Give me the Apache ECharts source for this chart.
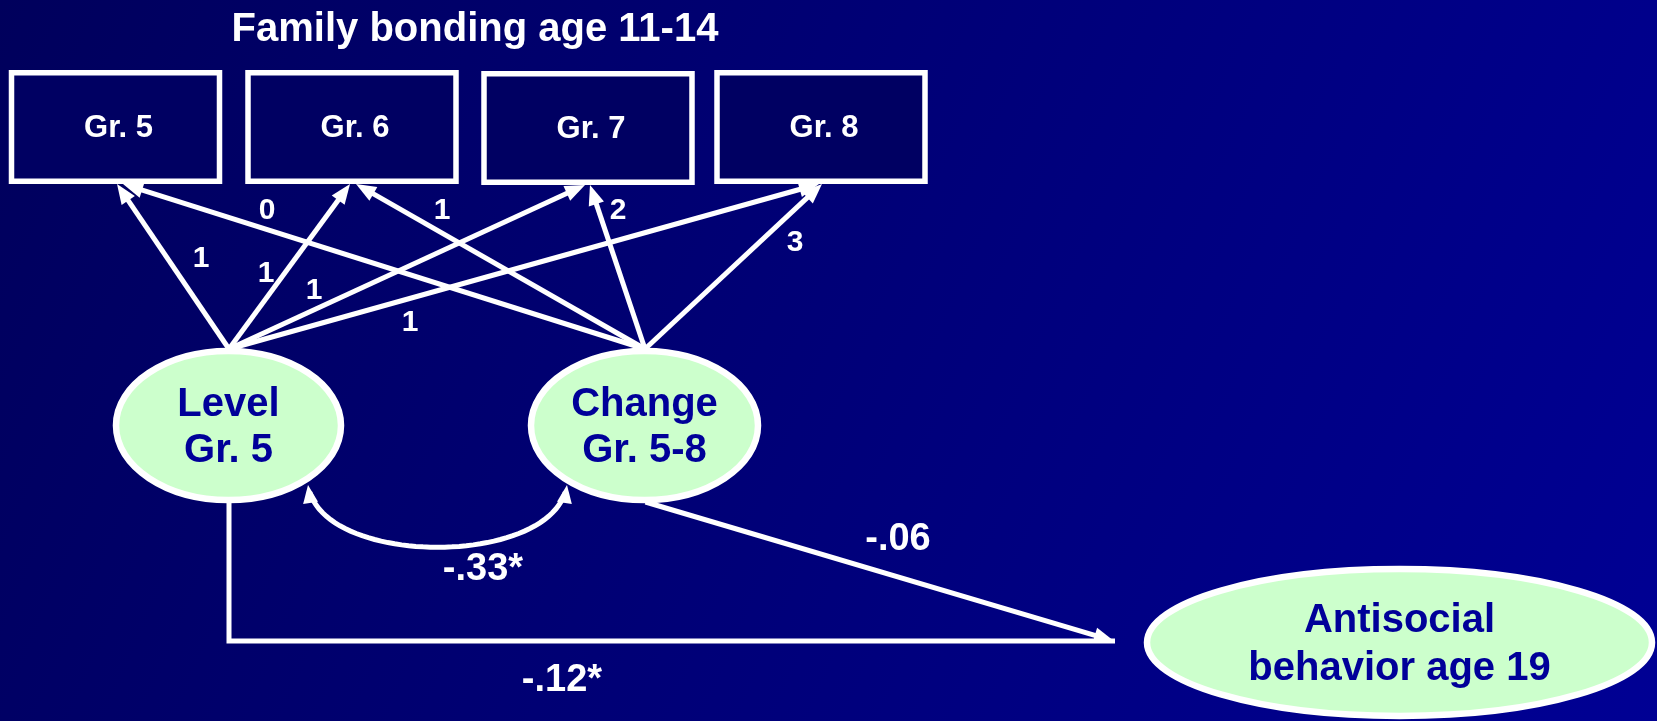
<!DOCTYPE html>
<html lang="en">
<head>
<meta charset="UTF-8">
<title>Family bonding path model</title>
<script src="https://cdn.jsdelivr.net/npm/echarts@6/dist/echarts.min.js"></script>
<style>
  html, body { margin: 0; padding: 0; width: 100%; height: 100%; overflow: hidden; }
  #chart { width: 1657px; height: 721px; }
</style>
</head>
<body>
<div id="chart"></div>
<script>
// values shown in the diagram
var titleText = 'Family bonding age 11-14';
var indicators = ['Gr. 5', 'Gr. 6', 'Gr. 7', 'Gr. 8'];
var factors = ['Level\nGr. 5', 'Change\nGr. 5-8'];
var outcome = 'Antisocial\nbehavior age 19';
var levelLoadings = ['1', '1', '1', '1'];
var changeLoadings = ['0', '1', '2', '3'];
var covariance = '-.33*';
var levelEffect = '-.12*';
var changeEffect = '-.06';

// where things sit, in axis units (the hidden axes run 0..1657 and 0..721)
var indicatorPos = [[115.5, 127], [352, 127], [588, 128], [821, 127]];
var factorPos = [[228.5, 425.5], [644.5, 425.5]];
var outcomePos = [1399.5, 642.5];
var levelTipX = [117, 350, 585, 819];
var changeTipX = [123, 356, 590, 822];
var outcomeTip = [1114, 641];
var covCurve = [[308, 485], [320, 568], [555, 568], [567, 485]];
var levelLabelPos = [[201, 259], [266, 274], [314, 291], [410, 323]];
var changeLabelPos = [[267, 211], [442, 211], [618, 211], [795, 243]];
var covLabelPos = [483, 570];
var levelEffectPos = [562, 681];
var changeEffectPos = [898, 540];

var FONT = '"Liberation Sans", Arial, Helvetica, sans-serif';
var boxSize = [208, 108.5];
var boxBorder = 5.5;
var factorRadii = [[112.5, 74.5], [113.5, 74.5]];
var outcomeRadii = [252.5, 73.5];
var ovalBorder = 6.5;
var lineW = 5;

function tipY(i) { return indicatorPos[i][1] + (boxSize[1] + boxBorder) / 2; }
var levelTop = [factorPos[0][0] + 0.5, factorPos[0][1] - factorRadii[0][1] - 2];
var changeTop = [factorPos[1][0] + 0.5, factorPos[1][1] - factorRadii[1][1] - 2];
var levelBottom = [factorPos[0][0] + 0.5, factorPos[0][1] + factorRadii[0][1] + 2];
var changeBottom = [factorPos[1][0] + 1, factorPos[1][1] + factorRadii[1][1] + 2];

var paths = [];
indicators.forEach(function (name, i) {
    paths.push({ kind: 'line', pts: [levelTop, [levelTipX[i], tipY(i)]], head: [false, true] });
    paths.push({ kind: 'line', pts: [changeTop, [changeTipX[i], tipY(i)]], head: [false, true] });
});
paths.push({ kind: 'curve', pts: covCurve, head: [true, true], len: 18, half: 7.5 });
paths.push({ kind: 'line', pts: [levelBottom, [levelBottom[0], outcomeTip[1]], [outcomeTip[0] + 1, outcomeTip[1]]], head: [false, false] });
paths.push({ kind: 'line', pts: [changeBottom, outcomeTip], head: [false, true] });

var ovals = [
    { text: factors[0], pos: factorPos[0], r: factorRadii[0], lh: 46 },
    { text: factors[1], pos: factorPos[1], r: factorRadii[1], lh: 46 },
    { text: outcome, pos: outcomePos, r: outcomeRadii, lh: 48 }
];

var labels = [];
levelLoadings.forEach(function (t, i) { labels.push({ text: t, pos: levelLabelPos[i], size: 30 }); });
changeLoadings.forEach(function (t, i) { labels.push({ text: t, pos: changeLabelPos[i], size: 30 }); });
labels.push({ text: covariance, pos: covLabelPos, size: 38 });
labels.push({ text: levelEffect, pos: levelEffectPos, size: 38 });
labels.push({ text: changeEffect, pos: changeEffectPos, size: 38 });

function arrowHead(tip, from, len, half) {
    var dx = tip[0] - from[0], dy = tip[1] - from[1];
    var d = Math.sqrt(dx * dx + dy * dy);
    var ux = dx / d, uy = dy / d;
    var bx = tip[0] - ux * len, by = tip[1] - uy * len;
    return {
        type: 'polygon',
        shape: { points: [tip, [bx - uy * half, by + ux * half], [bx + uy * half, by - ux * half]] },
        style: { fill: '#ffffff' }
    };
}

function pullBack(tip, from, s) {
    var dx = from[0] - tip[0], dy = from[1] - tip[1];
    var d = Math.sqrt(dx * dx + dy * dy);
    return [tip[0] + dx / d * s, tip[1] + dy / d * s];
}

function cubicAt(p, t) {
    var u = 1 - t;
    var a = u * u * u, b = 3 * u * u * t, c = 3 * u * t * t, e = t * t * t;
    return [a * p[0][0] + b * p[1][0] + c * p[2][0] + e * p[3][0],
            a * p[0][1] + b * p[1][1] + c * p[2][1] + e * p[3][1]];
}

function renderPath(params, api) {
    var p = paths[params.dataIndex];
    var px = p.pts.map(function (pt) { return api.coord(pt); });
    var len = p.len || 20, half = p.half || 8;
    var children = [];
    var line;
    if (p.kind === 'curve') {
        var t0 = p.head[0] ? 0.03 : 0, t1 = p.head[1] ? 0.97 : 1;
        line = [];
        for (var k = 0; k <= 48; k++) line.push(cubicAt(px, t0 + (t1 - t0) * k / 48));
        if (p.head[0]) children.push(arrowHead(px[0], px[1], len, half));
        if (p.head[1]) children.push(arrowHead(px[3], px[2], len, half));
    } else {
        line = px.slice();
        var n = px.length;
        if (p.head[0]) {
            children.push(arrowHead(px[0], px[1], len, half));
            line[0] = pullBack(px[0], px[1], len * 0.6);
        }
        if (p.head[1]) {
            children.push(arrowHead(px[n - 1], px[n - 2], len, half));
            line[n - 1] = pullBack(px[n - 1], px[n - 2], len * 0.6);
        }
    }
    children.unshift({
        type: 'polyline',
        shape: { points: line },
        style: { stroke: '#ffffff', lineWidth: lineW, fill: null, lineJoin: 'miter' }
    });
    return { type: 'group', children: children };
}

function renderBox(params, api) {
    var c = api.coord([api.value(0), api.value(1)]);
    var s = api.size([boxSize[0], boxSize[1]]);
    return {
        type: 'group',
        children: [{
            type: 'rect',
            shape: { x: c[0] - s[0] / 2, y: c[1] - s[1] / 2, width: s[0], height: s[1] },
            style: { fill: '#000062', stroke: '#ffffff', lineWidth: boxBorder }
        }, {
            type: 'text',
            x: c[0] + 3, y: c[1] + 1,
            style: {
                text: indicators[params.dataIndex], fill: '#ffffff',
                fontSize: 31, fontWeight: 'bold', fontFamily: FONT,
                align: 'center', verticalAlign: 'middle'
            }
        }]
    };
}

function renderOval(params, api) {
    var o = ovals[params.dataIndex];
    var c = api.coord([api.value(0), api.value(1)]);
    var s = api.size([o.r[0], o.r[1]]);
    return {
        type: 'group',
        children: [{
            type: 'ellipse',
            shape: { cx: c[0], cy: c[1], rx: s[0], ry: s[1] },
            style: { fill: '#ccffcc', stroke: '#ffffff', lineWidth: ovalBorder }
        }, {
            type: 'text',
            x: c[0], y: c[1] + 2,
            style: {
                text: o.text, fill: '#000099',
                fontSize: 40, fontWeight: 'bold', fontFamily: FONT,
                lineHeight: o.lh, align: 'center', verticalAlign: 'middle'
            }
        }]
    };
}

function renderLabel(params, api) {
    var l = labels[params.dataIndex];
    var c = api.coord([api.value(0), api.value(1)]);
    return {
        type: 'text',
        x: c[0], y: c[1],
        style: {
            text: l.text, fill: '#ffffff',
            fontSize: l.size, fontWeight: 'bold', fontFamily: FONT,
            align: 'center', verticalAlign: 'middle'
        }
    };
}

var chart = echarts.init(document.getElementById('chart'));
chart.setOption({
    animation: false,
    backgroundColor: {
        type: 'linear', x: 0, y: 0, x2: 1, y2: 1,
        colorStops: [{ offset: 0, color: '#00005c' }, { offset: 1, color: '#000094' }]
    },
    title: {
        text: titleText,
        left: 470,
        top: 5,
        textAlign: 'center',
        textStyle: { color: '#ffffff', fontSize: 40, fontWeight: 'bold', fontFamily: FONT }
    },
    grid: { left: 0, right: 0, top: 0, bottom: 0 },
    xAxis: { type: 'value', min: 0, max: 1657, show: false },
    yAxis: { type: 'value', min: 0, max: 721, inverse: true, show: false },
    series: [
        {
            type: 'custom', name: 'indicators', renderItem: renderBox,
            data: indicatorPos.map(function (p) { return [p[0], p[1]]; })
        },
        {
            type: 'custom', name: 'paths', renderItem: renderPath,
            data: paths.map(function (p, i) { return [p.pts[0][0], p.pts[0][1], i]; })
        },
        {
            type: 'custom', name: 'latent', renderItem: renderOval,
            data: ovals.map(function (o) { return [o.pos[0], o.pos[1]]; })
        },
        {
            type: 'custom', name: 'estimates', renderItem: renderLabel,
            data: labels.map(function (l) { return [l.pos[0], l.pos[1]]; })
        }
    ]
});
</script>
</body>
</html>
